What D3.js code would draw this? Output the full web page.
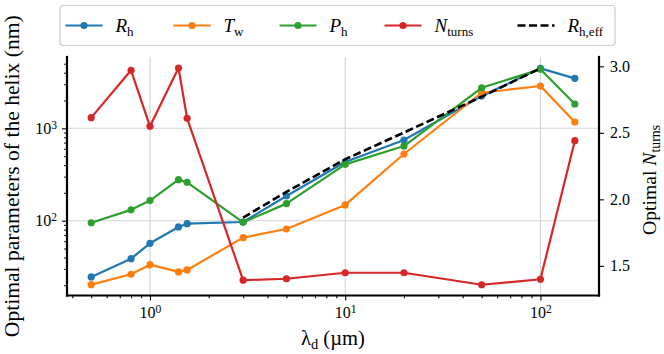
<!DOCTYPE html>
<html>
<head>
<meta charset="utf-8">
<script src="https://cdn.jsdelivr.net/npm/d3@7"></script>
<style>
  html, body { margin: 0; padding: 0; background: #fff; }
</style>
</head>
<body>
<div id="container"><svg></svg></div>
<script>
// wavelength lambda_d (um)
const lambda = [0.5, 0.8, 1.0, 1.4, 1.55, 3, 5, 10, 20, 50, 100, 150];
// left axis (nm)
const radius = [24.6, 38.8, 56.9, 85.5, 92.8, 96.8, 185, 431, 747, 2233, 4460, 3475];
const wire   = [20.3, 26.3, 33.4, 27.9, 29.3, 65.5, 81.3, 148, 527, 2427, 2870, 1170];
const pitch  = [95, 131, 165, 278, 260, 96, 153, 407, 643, 2748, 4350, 1832];
// right axis
const turns  = [2.614, 2.970, 2.549, 2.987, 2.609, 1.392, 1.403, 1.448, 1.448, 1.358, 1.399, 2.441];
// effective radius (dashed)
const lambdaEff = [3, 5, 10, 20, 50, 100];
const radiusEff = [108, 205, 462, 900, 2200, 4460];

const xMajor = [1, 10, 100];
const yLeftMajor = [100, 1000];
const yRightTicks = [1.5, 2.0, 2.5, 3.0];

const width = 664, height = 354;
const padding = {left: 67, right: 65, top: 57, bottom: 58.5};
const fontFamily = '"Liberation Serif", "Times New Roman", serif';

const svg = d3.select('#container').select('svg')
    .attr('width', width)
    .attr('height', height)
    .attr('font-family', fontFamily);

const x = d3.scaleLog()
    .domain([Math.pow(10, -0.425), Math.pow(10, 2.3)])
    .range([padding.left, width - padding.right]);
const yL = d3.scaleLog()
    .domain([Math.pow(10, 1.19), Math.pow(10, 3.772)])
    .range([height - padding.bottom, padding.top]);
const yR = d3.scaleLinear()
    .domain([1.277, 3.07])
    .range([height - padding.bottom, padding.top]);

function minorTicks(scale) {
    let [a, b] = scale.domain();
    let out = [];
    for (let e = Math.floor(Math.log10(a)); e <= Math.ceil(Math.log10(b)); e++) {
        for (let m = 2; m <= 9; m++) {
            let v = m * Math.pow(10, e);
            if (v >= a && v <= b) out.push(v);
        }
    }
    return out;
}

// superscript label 10^k
function powLabel(sel, d) {
    sel.text(null);
    sel.append('tspan').text('10');
    sel.append('tspan')
        .attr('dy', '-0.45em')
        .attr('font-size', '0.72em')
        .text(Math.round(Math.log10(d)));
}

// shrink / grow a label so it spans about the same length as in the picture
function fitText(sel, target) {
    let fs = parseFloat(sel.attr('font-size'));
    let len = sel.node().getComputedTextLength();
    if (len > 0) {
        sel.attr('font-size', (fs * target / len).toFixed(2));
    }
}

// grid
svg.append('g')
    .selectAll('line')
    .data(xMajor)
    .enter()
    .append('line')
    .attr('x1', d => x(d)).attr('x2', d => x(d))
    .attr('y1', padding.top).attr('y2', height - padding.bottom)
    .attr('stroke', '#d3d3d3').attr('stroke-width', 1.1);
svg.append('g')
    .selectAll('line')
    .data(yLeftMajor)
    .enter()
    .append('line')
    .attr('x1', padding.left).attr('x2', width - padding.right)
    .attr('y1', d => yL(d)).attr('y2', d => yL(d))
    .attr('stroke', '#d3d3d3').attr('stroke-width', 1.1);

// x axis
let gx = svg.append('g').attr('transform', `translate(0, ${height - padding.bottom})`);
gx.append('g').call(d3.axisBottom(x).tickValues(minorTicks(x)).tickSize(2.8).tickFormat(''));
gx.append('g').call(d3.axisBottom(x).tickValues(xMajor).tickSize(5).tickPadding(6))
    .selectAll('.tick text')
    .attr('font-size', 16)
    .each(function (d) { powLabel(d3.select(this), d); });

// left y axis
let gy = svg.append('g').attr('transform', `translate(${padding.left}, 0)`);
gy.append('g').call(d3.axisLeft(yL).tickValues(minorTicks(yL)).tickSize(2.8).tickFormat(''));
gy.append('g').call(d3.axisLeft(yL).tickValues(yLeftMajor).tickSize(5).tickPadding(5))
    .selectAll('.tick text')
    .attr('font-size', 16)
    .each(function (d) { powLabel(d3.select(this), d); });

// right y axis
let gr = svg.append('g').attr('transform', `translate(${width - padding.right}, 0)`);
gr.append('g').call(d3.axisRight(yR).tickValues(yRightTicks).tickSize(5).tickPadding(6).tickFormat(d3.format('.1f')))
    .selectAll('.tick text')
    .attr('font-size', 16);

// d3 axes put sans-serif on their groups
svg.selectAll('g').attr('font-family', fontFamily);
svg.selectAll('.domain').remove();
svg.selectAll('.tick line').attr('stroke', '#000').attr('stroke-width', 1.1);

// spines
const spine = (x1, y1, x2, y2) => svg.append('line')
    .attr('x1', x1).attr('y1', y1).attr('x2', x2).attr('y2', y2)
    .attr('stroke', '#000').attr('stroke-width', 2.2).attr('stroke-linecap', 'square');
spine(padding.left, padding.top, padding.left, height - padding.bottom);
spine(width - padding.right, padding.top, width - padding.right, height - padding.bottom);
spine(padding.left, height - padding.bottom, width - padding.right, height - padding.bottom);

// series
const series = [
    {vals: radius, color: '#1f77b4', y: yL},
    {vals: wire, color: '#ff7f0e', y: yL},
    {vals: pitch, color: '#2ca02c', y: yL},
];

function drawSeries(xs, ys, color, yScale, dashed, markers) {
    let pts = xs.map((d, i) => [d, ys[i]]);
    let line = d3.line().x(d => x(d[0])).y(d => yScale(d[1]));
    let g = svg.append('g');
    g.append('path')
        .attr('d', line(pts))
        .attr('fill', 'none')
        .attr('stroke', color)
        .attr('stroke-width', dashed ? 2.6 : 2.2)
        .attr('stroke-dasharray', dashed ? '8,3.5' : null)
        .attr('stroke-linejoin', 'round');
    if (markers) {
        g.selectAll('circle')
            .data(pts)
            .enter()
            .append('circle')
            .attr('cx', d => x(d[0]))
            .attr('cy', d => yScale(d[1]))
            .attr('r', 3.6)
            .attr('fill', color);
    }
}

series.forEach(s => drawSeries(lambda, s.vals, s.color, s.y, false, true));
drawSeries(lambdaEff, radiusEff, '#000', yL, true, false);
drawSeries(lambda, turns, '#d62728', yR, false, true);

// axis labels
let xl = svg.append('text')
    .attr('x', (padding.left + width - padding.right) / 2)
    .attr('y', 345)
    .attr('text-anchor', 'middle')
    .attr('font-size', 19);
xl.append('tspan').text('λ');
xl.append('tspan').attr('dy', 4).attr('font-size', '0.7em').text('d');
xl.append('tspan').attr('dy', -4).text(' (µm)');
fitText(xl, 64);

let yl = svg.append('text')
    .attr('transform', `translate(19, ${(padding.top + height - padding.bottom) / 2}) rotate(-90)`)
    .attr('text-anchor', 'middle')
    .attr('font-size', 19)
    .text('Optimal parameters of the helix (nm)');
fitText(yl, 322);

let rl = svg.append('text')
    .attr('transform', `translate(656, 180) rotate(-90)`)
    .attr('text-anchor', 'middle')
    .attr('font-size', 19);
rl.append('tspan').text('Optimal ');
rl.append('tspan').attr('font-style', 'italic').text('N');
rl.append('tspan').attr('dy', 4).attr('font-size', '0.7em').text('turns');
fitText(rl, 110);

// legend
const legendLabels = [
    {main: 'R', sub: 'h', color: '#1f77b4', dashed: false},
    {main: 'T', sub: 'w', color: '#ff7f0e', dashed: false},
    {main: 'P', sub: 'h', color: '#2ca02c', dashed: false},
    {main: 'N', sub: 'turns', color: '#d62728', dashed: false},
    {main: 'R', sub: 'h,eff', color: '#000', dashed: true},
];
const legendX = [65.5, 173.5, 279.5, 384.5, 517.5];

let lg = svg.append('g');
lg.append('rect')
    .attr('x', 60).attr('y', 5.5)
    .attr('width', 555).attr('height', 40)
    .attr('rx', 3)
    .attr('fill', '#fff')
    .attr('stroke', '#cccccc')
    .attr('stroke-width', 1.2);

legendLabels.forEach((d, i) => {
    let g = lg.append('g').attr('transform', `translate(${legendX[i]}, 25.5)`);
    g.append('line')
        .attr('x1', 0).attr('x2', 37)
        .attr('stroke', d.color)
        .attr('stroke-width', d.dashed ? 2.6 : 2.2)
        .attr('stroke-dasharray', d.dashed ? '8,3.5' : null);
    if (!d.dashed) {
        g.append('circle').attr('cx', 18.5).attr('r', 3.6).attr('fill', d.color);
    }
    let t = g.append('text')
        .attr('x', 50)
        .attr('y', 6)
        .attr('font-size', 19);
    t.append('tspan').attr('font-style', 'italic').text(d.main);
    t.append('tspan').attr('dy', 4).attr('font-size', 13).text(d.sub);
});
</script>
</body>
</html>
